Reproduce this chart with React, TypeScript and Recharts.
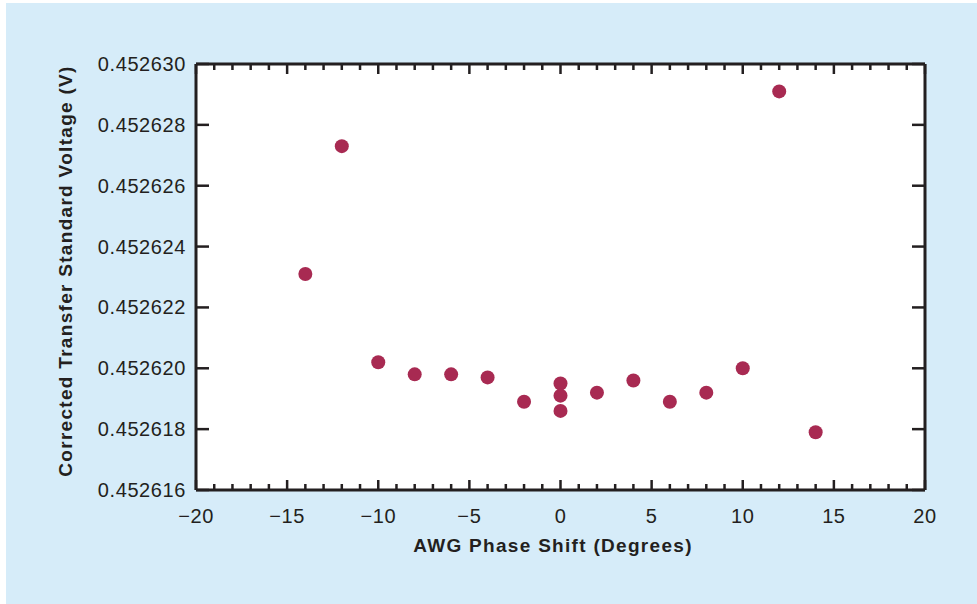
import { ScatterChart, Scatter, XAxis, YAxis } from 'recharts';

const phaseShift = [-14, -12, -10, -8, -6, -4, -2, 0, 0, 0, 2, 4, 6, 8, 10, 12, 14];
const voltage = [
  0.4526231, 0.4526273, 0.4526202, 0.4526198, 0.4526198, 0.4526197, 0.4526189,
  0.4526195, 0.4526191, 0.4526186, 0.4526192, 0.4526196, 0.4526189, 0.4526192,
  0.45262, 0.4526291, 0.4526179,
];
const xMajorTicks = [-20, -15, -10, -5, 0, 5, 10, 15, 20];
const yTicks = [0.452616, 0.452618, 0.45262, 0.452622, 0.452624, 0.452626, 0.452628, 0.45263];

const points = phaseShift.map((x, i) => ({ x, y: voltage[i] }));

// minor ticks every 1 degree between the labelled ones
const xAllTicks: number[] = [];
for (let v = xMajorTicks[0]; v <= xMajorTicks[xMajorTicks.length - 1]; v++) xAllTicks.push(v);

// plot frame
const LEFT = 196;
const RIGHT = 925;
const TOP = 64;
const BOTTOM = 490;

const FONT = '"Liberation Sans", Arial, Helvetica, sans-serif';
const INK = '#231f20';
const DOT = '#a82a52';

function isMajor(v: number) {
  return xMajorTicks.includes(v);
}

// draws the inward tick on both bottom and top edges
function BottomTick({ x, payload }: any) {
  const v = payload.value;
  const len = isMajor(v) ? 10 : 6;
  return (
    <g>
      <line x1={x} x2={x} y1={BOTTOM} y2={BOTTOM - len} stroke={INK} strokeWidth={2.5} />
      <line x1={x} x2={x} y1={TOP} y2={TOP + len} stroke={INK} strokeWidth={2.5} />
      {isMajor(v) && (
        <text x={x} y={523} textAnchor="middle" fontSize={20} letterSpacing={0.6} fontFamily={FONT} fill={INK}>
          {v < 0 ? `\u2212${Math.abs(v)}` : v}
        </text>
      )}
    </g>
  );
}

// draws the inward tick on both left and right edges
function LeftTick({ y, payload }: any) {
  return (
    <g>
      <line x1={LEFT} x2={LEFT + 13} y1={y} y2={y} stroke={INK} strokeWidth={2.5} />
      <line x1={RIGHT} x2={RIGHT - 13} y1={y} y2={y} stroke={INK} strokeWidth={2.5} />
      <text x={LEFT - 10} y={y + 7} textAnchor="end" fontSize={20} letterSpacing={0.6} fontFamily={FONT} fill={INK}>
        {payload.value.toFixed(6)}
      </text>
    </g>
  );
}

export default function App() {
  return (
    <div style={{ position: 'absolute', left: 0, top: 0, width: 977, height: 604, background: '#fff' }}>
      <div style={{ position: 'absolute', left: 6, top: 3, width: 971, height: 601, background: '#d6ecf9' }} />
      <div
        style={{
          position: 'absolute',
          left: LEFT,
          top: TOP,
          width: RIGHT - LEFT,
          height: BOTTOM - TOP,
          background: '#fff',
        }}
      />
      <div style={{ position: 'absolute', left: 0, top: 0 }}>
        <ScatterChart width={977} height={604} margin={{ top: TOP - 1, right: 977 - RIGHT - 1, bottom: 604 - BOTTOM - 60, left: 0 }}>
          <XAxis
            xAxisId="bottom"
            type="number"
            dataKey="x"
            domain={[-20, 20]}
            ticks={xAllTicks}
            interval={0}
            height={60}
            tickSize={0}
            tickMargin={0}
            tickLine={false}
            axisLine={{ stroke: INK, strokeWidth: 3 }}
            tick={<BottomTick />}
          />
          <XAxis
            xAxisId="top"
            orientation="top"
            type="number"
            domain={[-20, 20]}
            height={1}
            tick={false}
            tickLine={false}
            axisLine={{ stroke: INK, strokeWidth: 3 }}
          />
          <YAxis
            yAxisId="left"
            type="number"
            dataKey="y"
            domain={[0.452616, 0.45263]}
            ticks={yTicks}
            interval={0}
            width={LEFT}
            tickSize={0}
            tickMargin={0}
            tickLine={false}
            axisLine={{ stroke: INK, strokeWidth: 3 }}
            tick={<LeftTick />}
          />
          <YAxis
            yAxisId="right"
            orientation="right"
            type="number"
            domain={[0.452616, 0.45263]}
            width={1}
            tick={false}
            tickLine={false}
            axisLine={{ stroke: INK, strokeWidth: 3 }}
          />
          <Scatter
            xAxisId="bottom"
            yAxisId="left"
            data={points}
            fill={DOT}
            isAnimationActive={false}
            shape={(p: any) => <circle cx={p.cx} cy={p.cy} r={7} fill={DOT} />}
          />
          <text
            x={553}
            y={552}
            textAnchor="middle"
            fontSize={19}
            letterSpacing={1.3}
            fontWeight="bold"
            fontFamily={FONT}
            fill={INK}
          >
            AWG Phase Shift (Degrees)
          </text>
          <text
            x={72}
            y={271}
            textAnchor="middle"
            fontSize={19}
            letterSpacing={1.3}
            fontWeight="bold"
            fontFamily={FONT}
            fill={INK}
            transform="rotate(-90 72 271)"
          >
            Corrected Transfer Standard Voltage (V)
          </text>
        </ScatterChart>
      </div>
    </div>
  );
}
